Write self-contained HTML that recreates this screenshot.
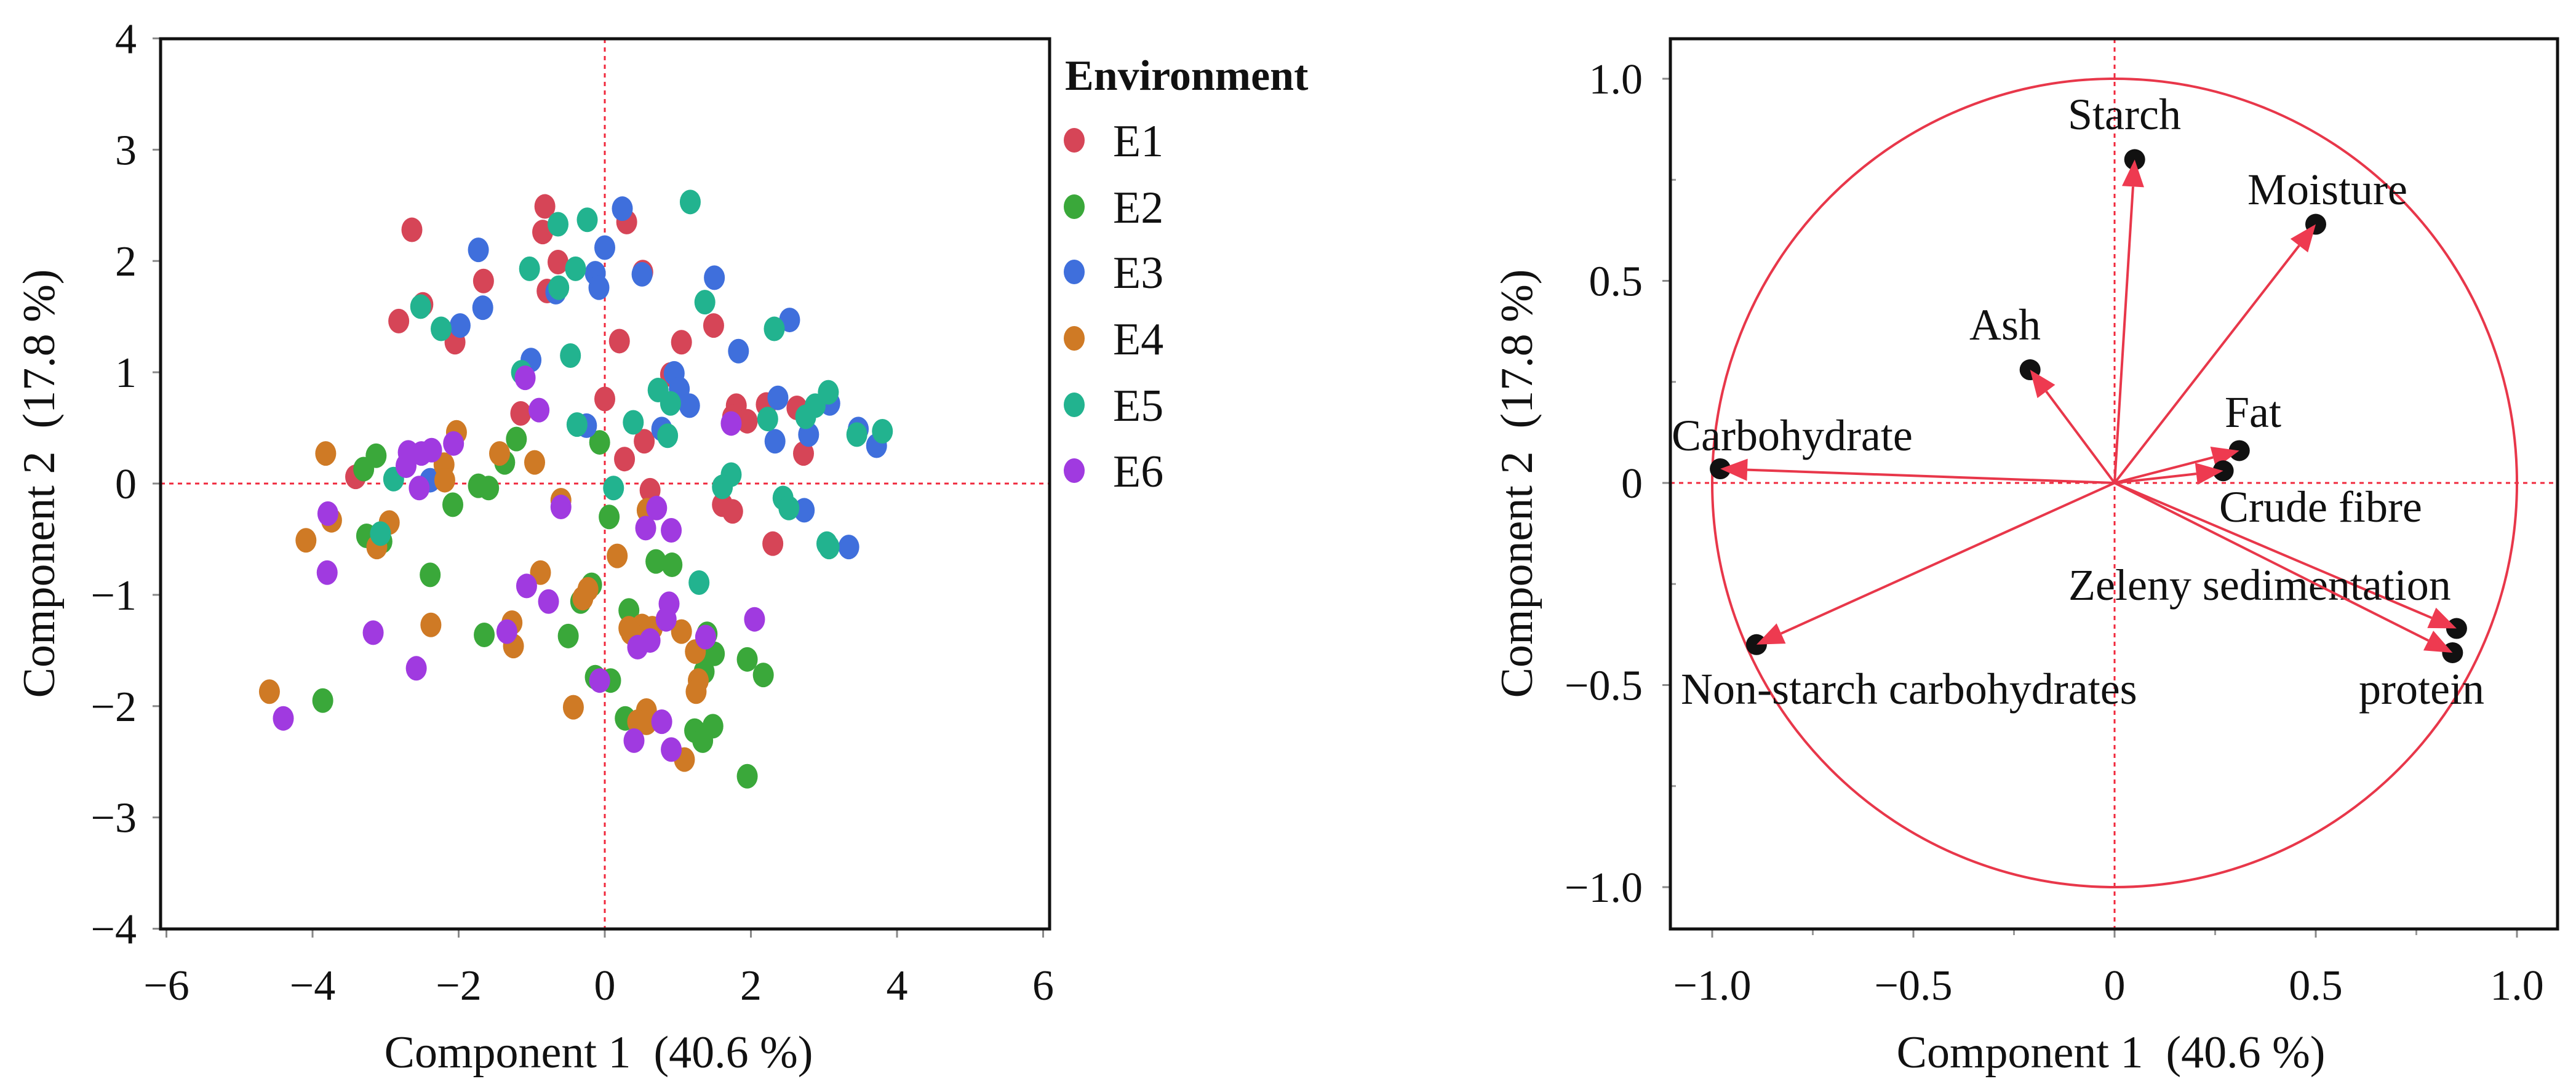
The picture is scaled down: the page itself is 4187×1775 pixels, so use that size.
<!DOCTYPE html>
<html><head><meta charset="utf-8"><style>
html,body{margin:0;padding:0;background:#fff;}
svg{display:block;font-family:"Liberation Serif",serif;}
</style></head><body>
<svg id="fig" width="4187" height="1775" viewBox="0 0 4187 1775" xmlns="http://www.w3.org/2000/svg">
<g id="left"></g>
<g id="right"></g>
</svg>
<script>
const NS="http://www.w3.org/2000/svg";
const envNames=["E1","E2","E3","E4","E5","E6"];
const envColors=["#d64557","#3aa83a","#3f6fdc","#cf7a25","#22b38f","#a03ae0"];
const e1X=[-2.64,-0.82,-0.85,0.30,-0.64,0.52,-1.66,-2.49,-2.82,-2.05,-0.79,0.20,1.05,1.49,0.90,0.0,-1.15,1.80,2.21,1.95,2.63,2.72,0.54,0.27,-3.41,0.62,1.61,1.75,2.30,1.75];
const e1Y=[2.28,2.49,2.26,2.35,1.99,1.90,1.82,1.61,1.46,1.27,1.73,1.28,1.27,1.42,0.98,0.76,0.63,0.70,0.71,0.56,0.68,0.27,0.38,0.22,0.06,-0.06,-0.19,-0.25,-0.54,0.60];
const e2X=[-3.13,-3.30,-1.21,-1.37,-1.73,-1.59,-2.08,-0.07,-3.26,-3.05,-2.39,0.06,0.70,0.92,-0.18,-0.33,0.33,-1.65,-0.50,1.40,1.43,1.50,1.36,1.95,2.17,-0.13,0.08,-3.86,0.28,1.23,1.34,1.48,1.95];
const e2Y=[0.25,0.13,0.40,0.19,-0.02,-0.04,-0.19,0.37,-0.47,-0.52,-0.82,-0.30,-0.70,-0.73,-0.91,-1.06,-1.14,-1.36,-1.37,-1.35,-1.52,-1.53,-1.69,-1.58,-1.72,-1.74,-1.77,-1.95,-2.11,-2.22,-2.31,-2.18,-2.63];
const e3X=[0.24,-1.73,0.0,-0.13,-0.08,0.51,1.50,-1.67,-1.98,-0.67,2.53,1.83,-1.01,0.95,1.02,1.16,2.37,3.08,2.79,2.33,3.47,3.72,-0.25,0.78,-2.39,2.73,3.34];
const e3Y=[2.47,2.10,2.12,1.89,1.76,1.88,1.85,1.58,1.42,1.72,1.47,1.19,1.11,0.99,0.85,0.70,0.77,0.72,0.44,0.38,0.49,0.34,0.52,0.49,0.03,-0.24,-0.57];
const e4X=[-3.82,-2.03,-1.44,-0.96,-2.20,-2.19,-3.74,-2.95,-4.09,-3.12,-0.60,0.58,0.17,-0.88,-0.23,-0.30,-1.27,-2.38,-1.25,0.33,0.51,0.65,0.36,1.05,1.24,1.28,1.25,-4.59,-0.43,0.57,0.45,1.09,0.57];
const e4Y=[0.27,0.46,0.27,0.19,0.17,0.03,-0.33,-0.35,-0.51,-0.57,-0.15,-0.24,-0.65,-0.80,-0.95,-1.03,-1.25,-1.27,-1.46,-1.30,-1.28,-1.30,-1.34,-1.33,-1.51,-1.77,-1.87,-1.87,-2.01,-2.04,-2.14,-2.48,-2.15];
const e5X=[1.17,-0.24,-0.64,-1.03,-0.40,-0.63,1.37,-2.52,-2.24,2.32,-0.47,-1.14,0.73,0.90,3.06,2.88,2.75,2.23,0.39,0.86,-0.38,3.80,3.45,1.73,1.61,-2.89,0.12,2.44,2.52,3.04,3.07,-3.07,1.29];
const e5Y=[2.53,2.37,2.33,1.93,1.93,1.76,1.63,1.59,1.39,1.39,1.15,1.00,0.84,0.72,0.82,0.70,0.60,0.58,0.55,0.43,0.53,0.47,0.44,0.08,-0.03,0.04,-0.04,-0.13,-0.22,-0.54,-0.57,-0.45,-0.89];
const e6X=[-1.09,-0.90,-2.07,-2.69,-2.37,-2.51,-2.72,-2.54,1.73,-3.79,-0.60,0.71,0.56,0.91,-3.80,-1.07,-0.77,0.88,0.84,2.05,-3.17,-1.34,0.45,0.62,-2.58,-0.07,0.78,0.40,0.91,-4.40,1.38];
const e6Y=[0.95,0.66,0.36,0.28,0.30,0.27,0.16,-0.04,0.54,-0.27,-0.21,-0.22,-0.40,-0.42,-0.80,-0.92,-1.06,-1.08,-1.22,-1.22,-1.34,-1.33,-1.47,-1.41,-1.66,-1.77,-2.14,-2.31,-2.39,-2.11,-1.38];
const scoreX=[e1X,e2X,e3X,e4X,e5X,e6X];
const scoreY=[e1Y,e2Y,e3Y,e4Y,e5Y,e6Y];
const leftXTicks=[-6,-4,-2,0,2,4,6];
const leftYTicks=[4,3,2,1,0,-1,-2,-3,-4];
const varNames=["Starch","Moisture","Ash","Fat","Crude fibre","Carbohydrate","Non-starch carbohydrates","Zeleny sedimentation","protein"];
const loadX=[0.05,0.50,-0.21,0.31,0.27,-0.98,-0.89,0.85,0.84];
const loadY=[0.80,0.64,0.28,0.08,0.03,0.035,-0.40,-0.36,-0.42];
const rightTicks=[-1.0,-0.5,0,0.5,1.0];
const rightTickLabels=["\u22121.0","\u22120.5","0","0.5","1.0"];
const rightMinor=[-0.75,-0.25,0.25,0.75];

function el(tag,attrs,parent,text){const e=document.createElementNS(NS,tag);for(const k in attrs)e.setAttribute(k,attrs[k]);if(text!==undefined)e.textContent=text;parent.appendChild(e);return e;}
const fmt=v=>v<0?"\u2212"+Math.abs(v):String(v);
const T1="Component 1\u00a0\u00a0(40.6 %)", T2="Component 2\u00a0\u00a0(17.8 %)";

// ---------- LEFT ----------
const L=document.getElementById('left');
const lx=v=>983+v*118.75, ly=v=>786-v*180.9;
for(let i=0;i<leftYTicks.length;i++){const v=leftYTicks[i];
 const t=el('line',{x1:248,x2:261,y1:ly(v),y2:ly(v),stroke:'#888','stroke-width':3},L);
 
 const tx=el('text',{x:222,y:ly(v)+24,'font-size':70,'text-anchor':'end',fill:'#111'},L,fmt(v));
 }
for(let i=0;i<leftXTicks.length;i++){const v=leftXTicks[i];
 const t=el('line',{x1:lx(v),x2:lx(v),y1:1510,y2:1524,stroke:'#888','stroke-width':3},L);
 
 const tx=el('text',{x:lx(v),y:1625,'font-size':70,'text-anchor':'middle',fill:'#111'},L,fmt(v));
 }
let ref=el('line',{x1:lx(0),x2:lx(0),y1:63,y2:1510,stroke:'#f0283c','stroke-width':3,'stroke-dasharray':'7 7'},L);

ref=el('line',{x1:261,x2:1706,y1:ly(0),y2:ly(0),stroke:'#f0283c','stroke-width':3,'stroke-dasharray':'7 7'},L);

for(let g=0;g<6;g++){for(let i=0;i<scoreX[g].length;i++){
 const d=el('ellipse',{cx:lx(scoreX[g][i]),cy:ly(scoreY[g][i]),rx:17,ry:20,fill:envColors[g]},L);
 }}
let fr=el('rect',{x:261,y:63,width:1445,height:1447,fill:'none',stroke:'#111','stroke-width':5},L);

let at=el('text',{x:973,y:1735,'font-size':74,'text-anchor':'middle',fill:'#111'},L,T1);

at=el('text',{x:0,y:0,'font-size':74,'text-anchor':'middle',fill:'#111',transform:'translate(88,786) rotate(-90)'},L,T2);

let lt=el('text',{x:1731,y:146,'font-size':70,'font-weight':'bold',fill:'#111'},L,'Environment');

const legY=[228,336,442,550,658,765];
for(let g=0;g<6;g++){
 const m=el('ellipse',{cx:1746,cy:legY[g],rx:17,ry:20,fill:envColors[g]},L);
 
 const t=el('text',{x:1809,y:legY[g]+26,'font-size':74,fill:'#111'},L,envNames[g]);
 }

// ---------- RIGHT ----------
const R=document.getElementById('right');
const rx=v=>3437+v*654, ry=v=>785-v*657;
for(let i=0;i<rightTicks.length;i++){const v=rightTicks[i];
 let t=el('line',{x1:2702,x2:2715,y1:ry(v),y2:ry(v),stroke:'#888','stroke-width':3},R);
 
 t=el('text',{x:2670,y:ry(v)+24,'font-size':70,'text-anchor':'end',fill:'#111'},R,rightTickLabels[i]);
 
 t=el('line',{x1:rx(v),x2:rx(v),y1:1510,y2:1524,stroke:'#888','stroke-width':3},R);
 
 t=el('text',{x:rx(v),y:1625,'font-size':70,'text-anchor':'middle',fill:'#111'},R,rightTickLabels[i]);
 }
for(let i=0;i<rightMinor.length;i++){const v=rightMinor[i];
 let t=el('line',{x1:2715,x2:2724,y1:ry(v),y2:ry(v),stroke:'#999','stroke-width':3},R);
 
 t=el('line',{x1:rx(v),x2:rx(v),y1:1510,y2:1520,stroke:'#999','stroke-width':3},R);
 }
ref=el('line',{x1:rx(0),x2:rx(0),y1:63,y2:1510,stroke:'#f0283c','stroke-width':3,'stroke-dasharray':'7 7'},R);

ref=el('line',{x1:2715,x2:4157,y1:ry(0),y2:ry(0),stroke:'#f0283c','stroke-width':3,'stroke-dasharray':'7 7'},R);

const circ=el('ellipse',{cx:rx(0),cy:ry(0),rx:654,ry:657,fill:'none',stroke:'#e8374a','stroke-width':4},R);

const labPos=[[3361,210],[3653,332],[3201,552],[3616,694],[3607,848],[2717,732],[2732,1144],[3362,975],[3834,1144]];
for(let i=0;i<varNames.length;i++){
 const x2=rx(loadX[i]),y2=ry(loadY[i]),x1=rx(0),y1=ry(0);
 const dot=el('circle',{cx:x2,cy:y2,r:17,fill:'#111'},R);
 
 const ang=Math.atan2(y2-y1,x2-x1),len=44,w=18;
 const bx=x2-len*Math.cos(ang),by=y2-len*Math.sin(ang);
 const ln=el('line',{x1:x1,y1:y1,x2:bx,y2:by,stroke:'#e8374a','stroke-width':4},R);
 
 const px=-Math.sin(ang),py=Math.cos(ang);
 const hd=el('polygon',{points:`${x2},${y2} ${bx+px*w},${by+py*w} ${bx-px*w},${by-py*w}`,fill:'#ee3a50'},R);
 
 const t=el('text',{x:labPos[i][0],y:labPos[i][1],'font-size':72,fill:'#111'},R,varNames[i]);
 }
fr=el('rect',{x:2715,y:63,width:1442,height:1447,fill:'none',stroke:'#111','stroke-width':5},R);

at=el('text',{x:3431,y:1735,'font-size':74,'text-anchor':'middle',fill:'#111'},R,T1);

at=el('text',{x:0,y:0,'font-size':74,'text-anchor':'middle',fill:'#111',transform:'translate(2490,786) rotate(-90)'},R,T2);

</script>
</body></html>
